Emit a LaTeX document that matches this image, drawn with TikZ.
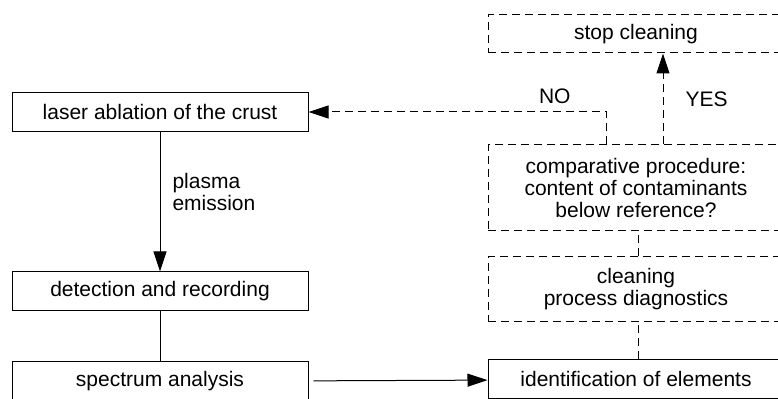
\documentclass[tikz,border=0pt]{standalone}
\usepackage{fontspec}
\setmainfont{Liberation Sans}
\usetikzlibrary{arrows.meta,positioning,calc}
\tikzset{
  box/.style={draw, minimum width=148pt, minimum height=19.5pt, inner sep=0pt, align=center},
  dline/.style={dash pattern=on 4pt off 2.5pt},
  dbox/.style={box, dline},
  tip/.style={-{Triangle[length=10pt,width=6.5pt]}},
  lbl/.style={inner sep=0pt}
}
\begin{document}
\begin{tikzpicture}[x=0.5pt,y=-0.5pt,font=\fontsize{10.5}{11}\selectfont,line width=0.5pt]
    \useasboundingbox (0,0) rectangle (778,399);
    \clip (0,0) rectangle (778,399);

    % measurement chain
    \node[box] (laser) at (160,112) {laser ablation of the crust};
    \node[box] (detect) at (160,291.5) {detection and recording};
    \node[box] (spectrum) at (160,381.5) {spectrum analysis};

    % control loop
    \node[dbox, minimum height=19pt] (stop) at (636,34) {stop cleaning};
    \node[dbox, minimum height=43pt] (compare) at (636,188)
        {comparative procedure:\\content of contaminants\\below reference?};
    \node[dbox, minimum height=32.5pt] (diag) at (636,289.5) {cleaning\\process diagnostics};
    \node[box] (ident) at (636,379.5) {identification of elements};

    % connections
    \draw[tip] (laser) -- node[lbl, right=6pt, pos=0.43, align=left] {plasma\\emission} (detect);
    \draw (detect) -- (spectrum);
    \draw[tip, shorten <=2.5pt] (spectrum) -- (ident);
    \draw[dline] ([xshift=1pt]ident.north) -- ([xshift=1pt]diag.south);
    \draw[dline] ([xshift=1pt]diag.north) -- ([xshift=1pt]compare.south);
    \draw[dline, tip] ([xshift=13.5pt]compare.north) -- node[lbl, right=11pt] {YES} ([xshift=13.5pt]stop.south);
    \draw[dline, tip] ([xshift=-15pt]compare.north) |- node[lbl, above=4pt, pos=0.586] {NO} (laser);
\end{tikzpicture}
\end{document}
